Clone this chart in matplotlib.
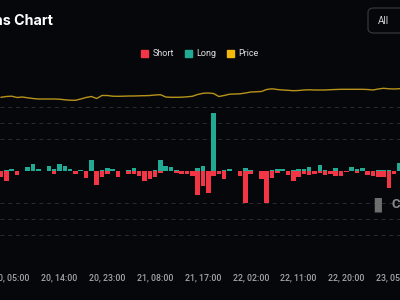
import matplotlib
matplotlib.use("Agg")
from matplotlib import pyplot as plt
from matplotlib.patches import Patch, FancyBboxPatch
import matplotlib.dates as mdates
import pandas as pd

# hourly samples, first bar = 20 May 03:00
start = "2024-05-20 03:00"

long_liq = [0, 0.16, 0.25, 0, 0.04, 0.54, 0.84, 0.21, 0.04, 0.59,
            0.29, 0.91, 0.62, 0.25, 0, 0.16, 0, 1.41, 0, 0.16,
            0.38, 0.21, 0, 0.04, 0.12, 0.38, 0, 0, 0, 0.12,
            1.34, 0.62, 0.46, 0.12, 0, 0, 0, 0.41, 0.59, 0,
            7.25, 0.06, 0.12, 0.21, 0.04, 0, 0.41, 0.12, 0, 0,
            0.06, 0.12, 0.31, 0.21, 0, 0.12, 0.23, 0.29, 0.52, 0,
            0.81, 0.12, 0, 0.36, 0, 0, 0.44, 0.31, 0.36, 0,
            0, 0.16, 0.12, 0.12, 0, 1.0]

short_liq = [0.75, 1.25, 0, 0.46, 0.04, 0, 0, 0, 0.04, 0,
             0.34, 0, 0, 0.06, 0.41, 0, 0.88, 0, 1.79, 0.75,
             0.34, 0, 0.75, 0.04, 0.38, 0.34, 0.62, 1.21, 0.96, 0.79,
             0.21, 0, 0, 0.21, 0.34, 0.34, 0.66, 2.95, 1.91, 2.8,
             0.66, 0.41, 0.96, 0, 0.04, 0.62, 4.0, 0.38, 0, 0.96,
             3.96, 0.84, 0.21, 0, 0.46, 1.29, 0.8, 0.38, 0.55, 0.38,
             0.25, 0.56, 0.38, 0.62, 0.62, 0.16, 0, 0.19, 0, 0.54,
             0.6, 0.8, 0.8, 2.1, 0.41, 0]

price = [64135, 64175, 64190, 64125, 64150, 64110, 64075, 64050, 64050, 64050,
         64050, 64040, 64010, 63990, 63985, 64050, 64125, 64175, 64075, 64225,
         64225, 64190, 64185, 64190, 64200, 64200, 64210, 64215, 64225, 64250,
         64265, 64150, 64135, 64135, 64140, 64160, 64185, 64275, 64335, 64350,
         64325, 64175, 64225, 64290, 64300, 64310, 64350, 64400, 64410, 64425,
         64525, 64560, 64525, 64500, 64485, 64465, 64475, 64500, 64510, 64500,
         64500, 64500, 64515, 64525, 64535, 64535, 64535, 64535, 64535, 64525,
         64500, 64550, 64585, 64560, 64550, 64565]

times = pd.date_range(start, periods=len(price), freq="h")
tick_times = pd.date_range("2024-05-20 05:00", periods=9, freq="9h")

bg = "#06070b"
red = "#f23645"
teal = "#22ab94"
gold = "#b8931a"
grid_c = "#2a2c33"

fig = plt.figure(figsize=(4, 3), dpi=100, facecolor=bg)
ax = fig.add_axes([0, 0.11, 1, 0.64], facecolor=bg)

w = 0.86 / 24
ax.bar(times, long_liq, width=w, color=teal, zorder=3)
ax.bar(times, [-v for v in short_liq], width=w, color=red, zorder=3)

ax.set_ylim(-12, 12)
ax.set_yticks([-12, -8, -6, -4, 4, 6, 8])
ax.yaxis.grid(True, color=grid_c, linestyle=(0, (4, 4)), linewidth=0.7)
ax.set_yticklabels([])
ax.tick_params(axis="y", length=0)

ax.set_xlim(times[0] - pd.Timedelta(minutes=12), times[0] + pd.Timedelta(hours=75, minutes=6))
ax.set_xticks(tick_times)
ax.xaxis.set_major_formatter(mdates.DateFormatter("%d, %H:%M"))
ax.tick_params(axis="x", length=0, pad=5, labelcolor="#a6a6a6")
for lbl in ax.get_xticklabels():
    lbl.set_fontfamily("Roboto")
    lbl.set_fontsize(6.3)
    lbl.set_fontweight("medium")
for s in ax.spines.values():
    s.set_visible(False)

ax2 = ax.twinx()
ax2.plot(times, price, color=gold, linewidth=1.0, zorder=4)
ax2.set_ylim(55650, 65250)
ax2.set_yticks([])
for s in ax2.spines.values():
    s.set_visible(False)

# header
fig.text(53 / 400, 1 - 21 / 300, "Liquidations Chart", ha="right", va="center",
         color="white", fontsize=10.3, fontweight="bold", family="Inter")

handles = [Patch(color=red), Patch(color=teal), Patch(color="#f0b90b")]
fig.legend(handles, ["Short", "Long", "Price"], loc="center",
           bbox_to_anchor=(0.5, 1 - 54 / 300), ncol=3, frameon=False,
           labelcolor="#e0e0e0", handlelength=0.75, handleheight=0.75,
           handletextpad=0.5, columnspacing=1.2, prop={"family": "Roboto", "size": 6.5})

btn = FancyBboxPatch((368 / 400, 1 - 33 / 300), 0.12, 25 / 300,
                     boxstyle="round,pad=0,rounding_size=0.015",
                     transform=fig.transFigure, facecolor=bg, edgecolor="#34363e",
                     linewidth=0.9)
fig.patches.append(btn)
fig.text(383 / 400, 1 - 21 / 300, "All", ha="center", va="center",
         color="#d0d0d0", fontsize=7.2, family="Roboto")

# watermark
fig.text(378 / 400, 1 - 204 / 300, "\u25AE", ha="center", va="center",
         color="#6e6e6e", fontsize=14)
fig.text(391 / 400, 1 - 204 / 300, "COINGLASS", ha="left", va="center",
         color="#8a8a8a", fontsize=9.5, fontweight="bold", family="Roboto")

fig.savefig("out.png", dpi=100, facecolor=bg)
